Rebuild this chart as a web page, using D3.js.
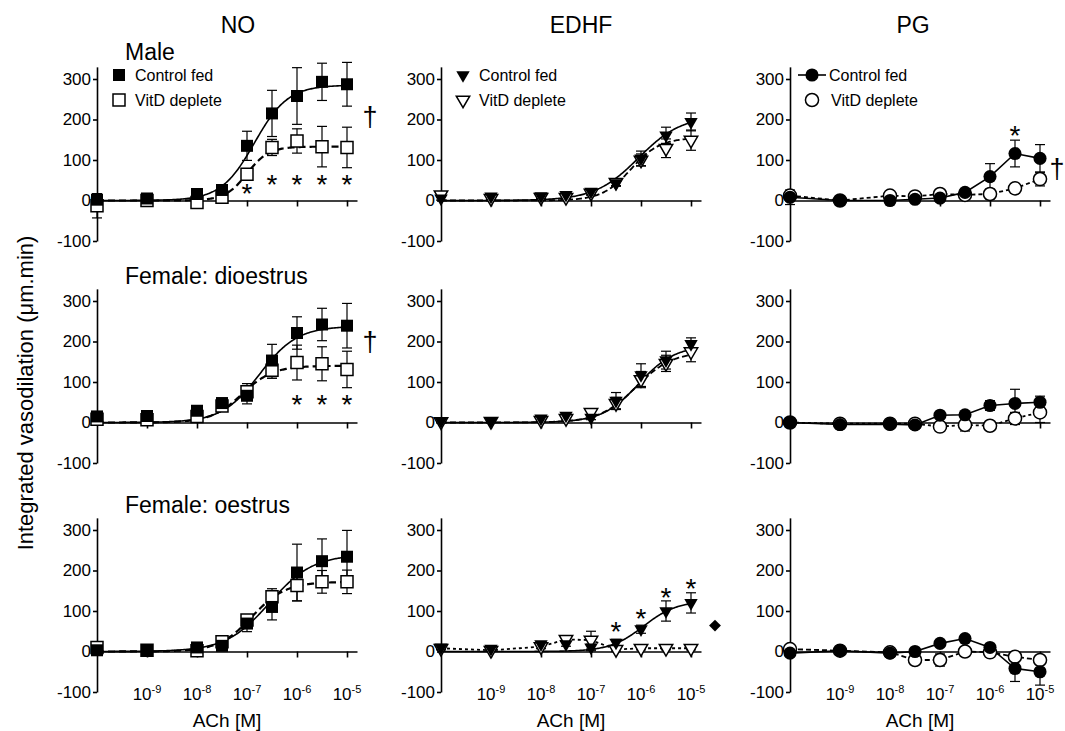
<!DOCTYPE html>
<html>
<head>
<meta charset="utf-8">
<script src="https://cdn.jsdelivr.net/npm/d3@7"></script>
<style>
body { margin: 0; background: #fff; }
text { font-family: Arial, "Liberation Sans", sans-serif; fill: #000; }
</style>
</head>
<body>
<div id="plot"></div>
<script>
// ACh concentrations (log M); -10 is the baseline point drawn on the y axis
var logConc = [-10, -9, -8, -7.5, -7, -6.5, -6, -5.5, -5];
var xTicks = [-9, -8, -7, -6, -5];
var yTicks = [-100, 0, 100, 200, 300];
var columns = ["NO", "EDHF", "PG"];
var rowLabels = ["Male", "Female: dioestrus", "Female: oestrus"];
var seriesNames = ["Control fed", "VitD deplete"];

// NO
var noMaleCtrl = [2, 5, 16, 26, 135, 215, 258, 293, 287];
var noMaleCtrlErr = [8, 8, 8, 10, 36, 57, 70, 46, 54];
var noMaleVitD = [-13, 0, -5, 8, 65, 131, 147, 133, 131];
var noMaleVitDErr = [30, 5, 5, 5, 10, 20, 30, 50, 50];
var noDiCtrl = [15, 16, 29, 48, 66, 153, 221, 242, 239];
var noDiCtrlErr = [6, 6, 8, 12, 20, 40, 40, 40, 55];
var noDiVitD = [8, 7, 15, 41, 76, 129, 148, 145, 131];
var noDiVitDErr = [5, 5, 6, 10, 20, 20, 43, 42, 45];
var noOeCtrl = [3, 3, 10, 14, 69, 110, 195, 223, 234];
var noOeCtrlErr = [5, 5, 5, 6, 20, 32, 70, 55, 65];
var noOeVitD = [10, 3, 2, 24, 78, 135, 163, 172, 172];
var noOeVitDErr = [8, 4, 6, 6, 12, 20, 38, 28, 29];

// EDHF
var edMaleCtrl = [5, 10, 11, 14, 22, 43, 104, 161, 194];
var edMaleCtrlErr = [4, 4, 4, 4, 6, 8, 18, 20, 22];
var edMaleVitD = [14, 5, 8, 8, 18, 45, 100, 129, 149];
var edMaleVitDErr = [5, 3, 3, 3, 5, 8, 15, 23, 25];
var edDiCtrl = [4, 4, 10, 17, 12, 54, 117, 154, 194];
var edDiCtrlErr = [4, 4, 4, 5, 5, 20, 28, 22, 15];
var edDiVitD = [2, 3, 5, 10, 25, 47, 106, 146, 175];
var edDiVitDErr = [3, 3, 3, 4, 8, 15, 20, 20, 25];
var edOeCtrl = [10, 7, 18, 18, 10, 22, 55, 100, 120];
var edOeCtrlErr = [5, 4, 5, 5, 8, 8, 10, 25, 25];
var edOeVitD = [8, 3, 12, 30, 28, 5, 8, 8, 8];
var edOeVitDErr = [4, 3, 5, 8, 22, 4, 4, 4, 4];

// PG
var pgMaleCtrl = [8, 0, 0, 3, 6, 20, 59, 116, 104];
var pgMaleCtrlErr = [18, 3, 3, 3, 4, 6, 32, 33, 34];
var pgMaleVitD = [12, 0, 12, 10, 16, 14, 16, 30, 53];
var pgMaleVitDErr = [8, 3, 4, 4, 5, 5, 12, 12, 17];
var pgDiCtrl = [0, -5, -4, -6, 18, 19, 42, 47, 50];
var pgDiCtrlErr = [4, 3, 3, 3, 5, 5, 12, 35, 15];
var pgDiVitD = [0, -3, -3, -3, -10, -6, -8, 10, 25];
var pgDiVitDErr = [3, 3, 3, 3, 6, 15, 6, 15, 25];
var pgOeCtrl = [-4, 2, -4, 0, 20, 32, 10, -42, -50];
var pgOeCtrlErr = [4, 3, 4, 4, 6, 6, 6, 32, 33];
var pgOeVitD = [6, 2, -2, -21, -21, 0, -2, -13, -21];
var pgOeVitDErr = [4, 3, 4, 6, 15, 5, 5, 10, 10];

// sigmoid fits: [top, logEC50, hill]
var noMaleCtrlFit = [285, -6.85, 1.3], noMaleVitDFit = [133, -7.0, 2.0];
var noDiCtrlFit = [238, -6.75, 1.15], noDiVitDFit = [140, -7.1, 1.4];
var noOeCtrlFit = [240, -6.55, 1.0], noOeVitDFit = [172, -6.9, 1.3];
var edMaleCtrlFit = [210, -6.05, 1.0], edMaleVitDFit = [155, -6.2, 1.5];
var edDiCtrlFit = [190, -6.05, 1.2], edDiVitDFit = [175, -6.1, 1.2];
var edOeCtrlFit = [125, -5.95, 1.3];

// significance marks [logConc, value]
var noMaleStars = [[-7, 30], [-6.5, 54], [-6, 54], [-5.5, 54], [-5, 54]];
var noDiStars = [[-6, 59], [-5.5, 59], [-5, 59]];
var edOeStars = [[-6.5, 62], [-6, 96], [-5.5, 146], [-5, 170]];
var pgMaleStars = [[-5.5, 175]];
var noMaleDagger = [-4.54, 207], noDiDagger = [-4.54, 198], pgMaleDagger = [-4.66, 77];
var edOeDiamond = [-4.52, 64];

var panels = [
  {col: 0, row: 0, ctrl: noMaleCtrl, ctrlErr: noMaleCtrlErr, vit: noMaleVitD, vitErr: noMaleVitDErr, ctrlFit: noMaleCtrlFit, vitFit: noMaleVitDFit, stars: noMaleStars, dagger: noMaleDagger},
  {col: 0, row: 1, ctrl: noDiCtrl, ctrlErr: noDiCtrlErr, vit: noDiVitD, vitErr: noDiVitDErr, ctrlFit: noDiCtrlFit, vitFit: noDiVitDFit, stars: noDiStars, dagger: noDiDagger},
  {col: 0, row: 2, ctrl: noOeCtrl, ctrlErr: noOeCtrlErr, vit: noOeVitD, vitErr: noOeVitDErr, ctrlFit: noOeCtrlFit, vitFit: noOeVitDFit, stars: []},
  {col: 1, row: 0, ctrl: edMaleCtrl, ctrlErr: edMaleCtrlErr, vit: edMaleVitD, vitErr: edMaleVitDErr, ctrlFit: edMaleCtrlFit, vitFit: edMaleVitDFit, stars: []},
  {col: 1, row: 1, ctrl: edDiCtrl, ctrlErr: edDiCtrlErr, vit: edDiVitD, vitErr: edDiVitDErr, ctrlFit: edDiCtrlFit, vitFit: edDiVitDFit, stars: []},
  {col: 1, row: 2, ctrl: edOeCtrl, ctrlErr: edOeCtrlErr, vit: edOeVitD, vitErr: edOeVitDErr, ctrlFit: edOeCtrlFit, vitFit: null, stars: edOeStars, diamond: edOeDiamond},
  {col: 2, row: 0, ctrl: pgMaleCtrl, ctrlErr: pgMaleCtrlErr, vit: pgMaleVitD, vitErr: pgMaleVitDErr, ctrlFit: null, vitFit: null, stars: pgMaleStars, dagger: pgMaleDagger},
  {col: 2, row: 1, ctrl: pgDiCtrl, ctrlErr: pgDiCtrlErr, vit: pgDiVitD, vitErr: pgDiVitDErr, ctrlFit: null, vitFit: null, stars: []},
  {col: 2, row: 2, ctrl: pgOeCtrl, ctrlErr: pgOeCtrlErr, vit: pgOeVitD, vitErr: pgOeVitDErr, ctrlFit: null, vitFit: null, stars: []}
];

var colLeft = [97, 441, 790];
var rowBottom = [241, 463, 692];
var markerTypes = [d3.symbolSquare, d3.symbolTriangle, d3.symbolCircle];
var markerSizes = [144, 78, 135];
var vitDash = [["7,4", "7,4", "7,4"], ["6,3", "6,3", "3,3"], ["4,3", "3,3", "5,3"]];

var svg = d3.select("#plot").append("svg")
  .attr("width", 1065)
  .attr("height", 731);

var x = d3.scaleLinear().domain([-10, -4.8]).range([0, 260]);

function sigmoid(f, lx) {
  return f[0] / (1 + Math.pow(10, (f[1] - lx) * f[2]));
}

function markerPath(col) {
  return d3.symbol().type(markerTypes[col]).size(markerSizes[col])();
}
function markerTransform(col, px, py) {
  return "translate(" + px + "," + py + ")" + (col === 1 ? " rotate(180)" : "");
}

panels.forEach(function(p) {
  var y = d3.scaleLinear().domain([-100, 330])
    .range([rowBottom[p.row], rowBottom[p.row] - 430 * 0.405]);
  var g = svg.append("g").attr("transform", "translate(" + colLeft[p.col] + ",0)");

  // axes
  var ya = g.append("g").call(d3.axisLeft(y).tickValues(yTicks).tickSize(4).tickSizeOuter(0)
    .tickFormat(function(d) { return String(d); }));
  ya.attr("font-size", 17).attr("font-family", "Arial, 'Liberation Sans', sans-serif");
  ya.selectAll("path, line").attr("stroke-width", 1.6);
  ya.selectAll("text").attr("x", -6);

  var xa = g.append("g").attr("transform", "translate(0," + y(0) + ")")
    .call(d3.axisBottom(x).tickValues(xTicks).tickSize(6).tickSizeOuter(0).tickFormat(""));
  xa.selectAll("path, line").attr("stroke-width", 1.6);

  var line = d3.line().x(function(d) { return x(d[0]); }).y(function(d) { return y(d[1]); });
  var pts = function(vals) { return logConc.map(function(c, i) { return [c, vals[i]]; }); };
  var fitPts = function(f) {
    return d3.range(-10, -4.999, 0.02).map(function(lx) { return [lx, sigmoid(f, lx)]; });
  };

  // control line
  g.append("path")
    .attr("d", line(p.ctrlFit ? fitPts(p.ctrlFit) : pts(p.ctrl)))
    .attr("fill", "none").attr("stroke", "#000").attr("stroke-width", 1.6);
  // vitD line
  g.append("path")
    .attr("d", line(p.vitFit ? fitPts(p.vitFit) : pts(p.vit)))
    .attr("fill", "none").attr("stroke", "#000")
    .attr("stroke-width", p.col === 0 ? 2.2 : 1.8)
    .attr("stroke-dasharray", vitDash[p.col][p.row]);

  // error bars
  [[p.vit, p.vitErr], [p.ctrl, p.ctrlErr]].forEach(function(s) {
    var eb = g.append("g").attr("stroke", "#000").attr("stroke-width", 1.2);
    logConc.forEach(function(c, i) {
      var lo = y(s[0][i] - s[1][i]), hi = y(s[0][i] + s[1][i]), cx = x(c);
      eb.append("line").attr("x1", cx).attr("x2", cx).attr("y1", lo).attr("y2", hi);
      eb.append("line").attr("x1", cx - 5).attr("x2", cx + 5).attr("y1", lo).attr("y2", lo);
      eb.append("line").attr("x1", cx - 5).attr("x2", cx + 5).attr("y1", hi).attr("y2", hi);
    });
  });

  // markers: VitD open underneath, control filled on top
  g.append("g").selectAll("path").data(pts(p.vit)).enter().append("path")
    .attr("d", markerPath(p.col))
    .attr("transform", function(d) { return markerTransform(p.col, x(d[0]), y(d[1])); })
    .attr("fill", "#fff").attr("stroke", "#000").attr("stroke-width", 1.5);
  g.append("g").selectAll("path").data(pts(p.ctrl)).enter().append("path")
    .attr("d", markerPath(p.col))
    .attr("transform", function(d) { return markerTransform(p.col, x(d[0]), y(d[1])); })
    .attr("fill", "#000");

  // significance
  p.stars.forEach(function(s) {
    g.append("text").attr("x", x(s[0])).attr("y", y(s[1]) + 15)
      .attr("text-anchor", "middle").attr("font-size", 28).text("*");
  });
  if (p.dagger) {
    g.append("text").attr("x", x(p.dagger[0])).attr("y", y(p.dagger[1]))
      .attr("text-anchor", "middle").attr("dominant-baseline", "central")
      .attr("font-size", 27).text("\u2020");
  }
  if (p.diamond) {
    g.append("path").attr("d", d3.symbol().type(d3.symbolSquare).size(70)())
      .attr("transform", "translate(" + x(p.diamond[0]) + "," + y(p.diamond[1]) + ") rotate(45)")
      .attr("fill", "#000");
  }

  // x tick labels on the bottom row
  if (p.row === 2) {
    xTicks.forEach(function(t) {
      var tx = g.append("text").attr("x", x(t)).attr("y", 700)
        .attr("text-anchor", "middle").attr("font-size", 17);
      tx.append("tspan").text("10");
      tx.append("tspan").attr("font-size", 11).attr("dy", -7).text(String(t));
    });
    g.append("text").attr("x", (x(-10) + x(-4.8)) / 2).attr("y", 727)
      .attr("text-anchor", "middle").attr("font-size", 19).text("ACh [M]");
  }

  // legend on the top row
  if (p.row === 0) {
    [0, 1].forEach(function(k) {
      var ly = 75 + k * 25;
      if (p.col === 2 && k === 0) {
        g.append("line").attr("x1", 8).attr("x2", 36).attr("y1", ly).attr("y2", ly)
          .attr("stroke", "#000").attr("stroke-width", 1.6);
      }
      g.append("path").attr("d", markerPath(p.col))
        .attr("transform", markerTransform(p.col, 22, ly))
        .attr("fill", k === 0 ? "#000" : "#fff")
        .attr("stroke", "#000").attr("stroke-width", k === 0 ? 0 : 1.5);
      g.append("text").attr("x", p.col === 2 ? (k === 0 ? 39 : 41) : 38).attr("y", ly + 6)
        .attr("font-size", 16).text(seriesNames[k]);
    });
  }
});

// column titles
var titleX = [238, 581, 913];
columns.forEach(function(c, i) {
  svg.append("text").attr("x", titleX[i]).attr("y", 33)
    .attr("text-anchor", "middle").attr("font-size", 23).text(c);
});

// row labels
var rowLabelY = [60, 284, 513];
rowLabels.forEach(function(r, i) {
  svg.append("text").attr("x", 125).attr("y", rowLabelY[i])
    .attr("font-size", 23).text(r);
});

// y axis title
svg.append("text")
  .attr("transform", "translate(33,393) rotate(-90)")
  .attr("text-anchor", "middle")
  .attr("font-size", 22)
  .text("Integrated vasodilation (\u03bcm.min)");
</script>
</body>
</html>
